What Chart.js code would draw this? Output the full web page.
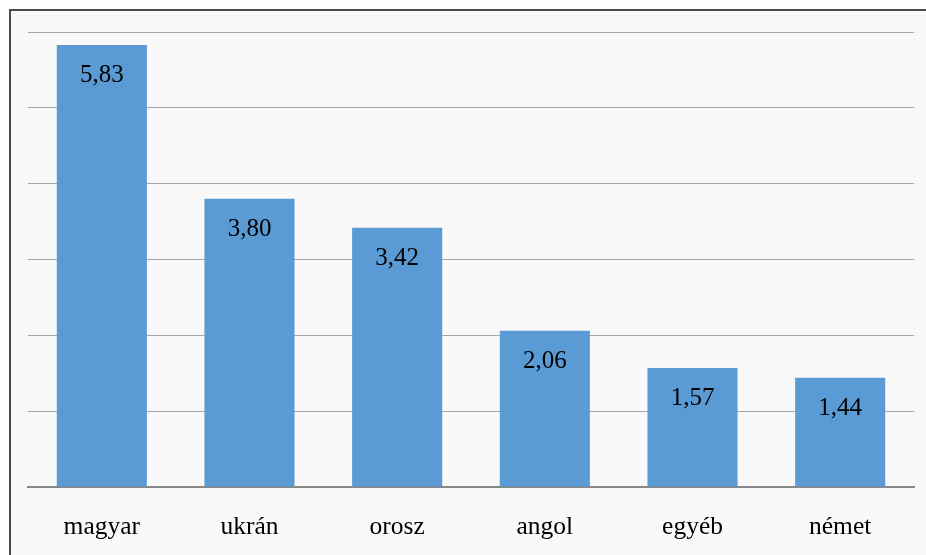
<!DOCTYPE html>
<html>
<head>
<meta charset="utf-8">
<script src="https://cdn.jsdelivr.net/npm/chart.js@4/dist/chart.umd.min.js"></script>
<style>
  html, body { margin: 0; padding: 0; background: #ffffff; }
  #wrap { position: relative; width: 926px; height: 555px; }
  canvas { display: block; }
</style>
</head>
<body>
<div id="wrap"><canvas id="c" width="926" height="555"></canvas></div>
<script>
const categories = ["magyar", "ukrán", "orosz", "angol", "egyéb", "német"];
const values = [5.83, 3.80, 3.42, 2.06, 1.57, 1.44];
const yTicks = [0, 1, 2, 3, 4, 5, 6];

const frame = {
  id: 'frame',
  beforeDraw(chart) {
    const ctx = chart.ctx;
    ctx.save();
    ctx.fillStyle = '#ffffff';
    ctx.fillRect(0, 0, chart.width, chart.height);
    ctx.fillStyle = '#f9f9f9';
    ctx.fillRect(10, 10, chart.width - 10, chart.height - 10);
    ctx.strokeStyle = '#4a4a4a';
    ctx.lineWidth = 2;
    ctx.beginPath();
    ctx.moveTo(10, chart.height);
    ctx.lineTo(10, 10);
    ctx.lineTo(chart.width, 10);
    ctx.stroke();
    ctx.restore();
  }
};

const valueLabels = {
  id: 'valueLabels',
  afterDatasetsDraw(chart) {
    const ctx = chart.ctx;
    const meta = chart.getDatasetMeta(0);
    ctx.save();
    ctx.font = '25px "Liberation Serif", "Times New Roman", serif';
    ctx.fillStyle = '#000000';
    ctx.textAlign = 'center';
    ctx.textBaseline = 'alphabetic';
    meta.data.forEach((bar, i) => {
      const txt = values[i].toFixed(2).replace('.', ',');
      ctx.fillText(txt, bar.x, bar.y + 37);
    });
    ctx.restore();
  }
};

new Chart(document.getElementById('c'), {
  type: 'bar',
  data: {
    labels: categories,
    datasets: [{
      data: values,
      backgroundColor: '#5b9bd5',
      borderWidth: 0,
      categoryPercentage: 0.61,
      barPercentage: 1.0
    }]
  },
  options: {
    responsive: false,
    animation: false,
    devicePixelRatio: 1,
    layout: { padding: { left: 28, right: 12, top: 32, bottom: 0 } },
    plugins: { legend: { display: false }, tooltip: { enabled: false } },
    scales: {
      x: {
        grid: { display: false },
        border: { display: true, color: '#888888', width: 2 },
        afterFit(axis) { axis.height = 68; },
        ticks: {
          color: '#000000',
          padding: 17,
          font: { family: '"Liberation Serif", "Times New Roman", serif', size: 25.5 }
        }
      },
      y: {
        min: yTicks[0],
        max: yTicks[yTicks.length - 1],
        afterBuildTicks(axis) { axis.ticks = yTicks.map(v => ({ value: v })); },
        ticks: { display: false },
        border: { display: false },
        grid: {
          drawTicks: false,
          color: (c) => c.tick && c.tick.value === 0 ? 'rgba(0,0,0,0)' : '#a6a6a6',
          lineWidth: 1
        }
      }
    }
  },
  plugins: [frame, valueLabels]
});
</script>
</body>
</html>
